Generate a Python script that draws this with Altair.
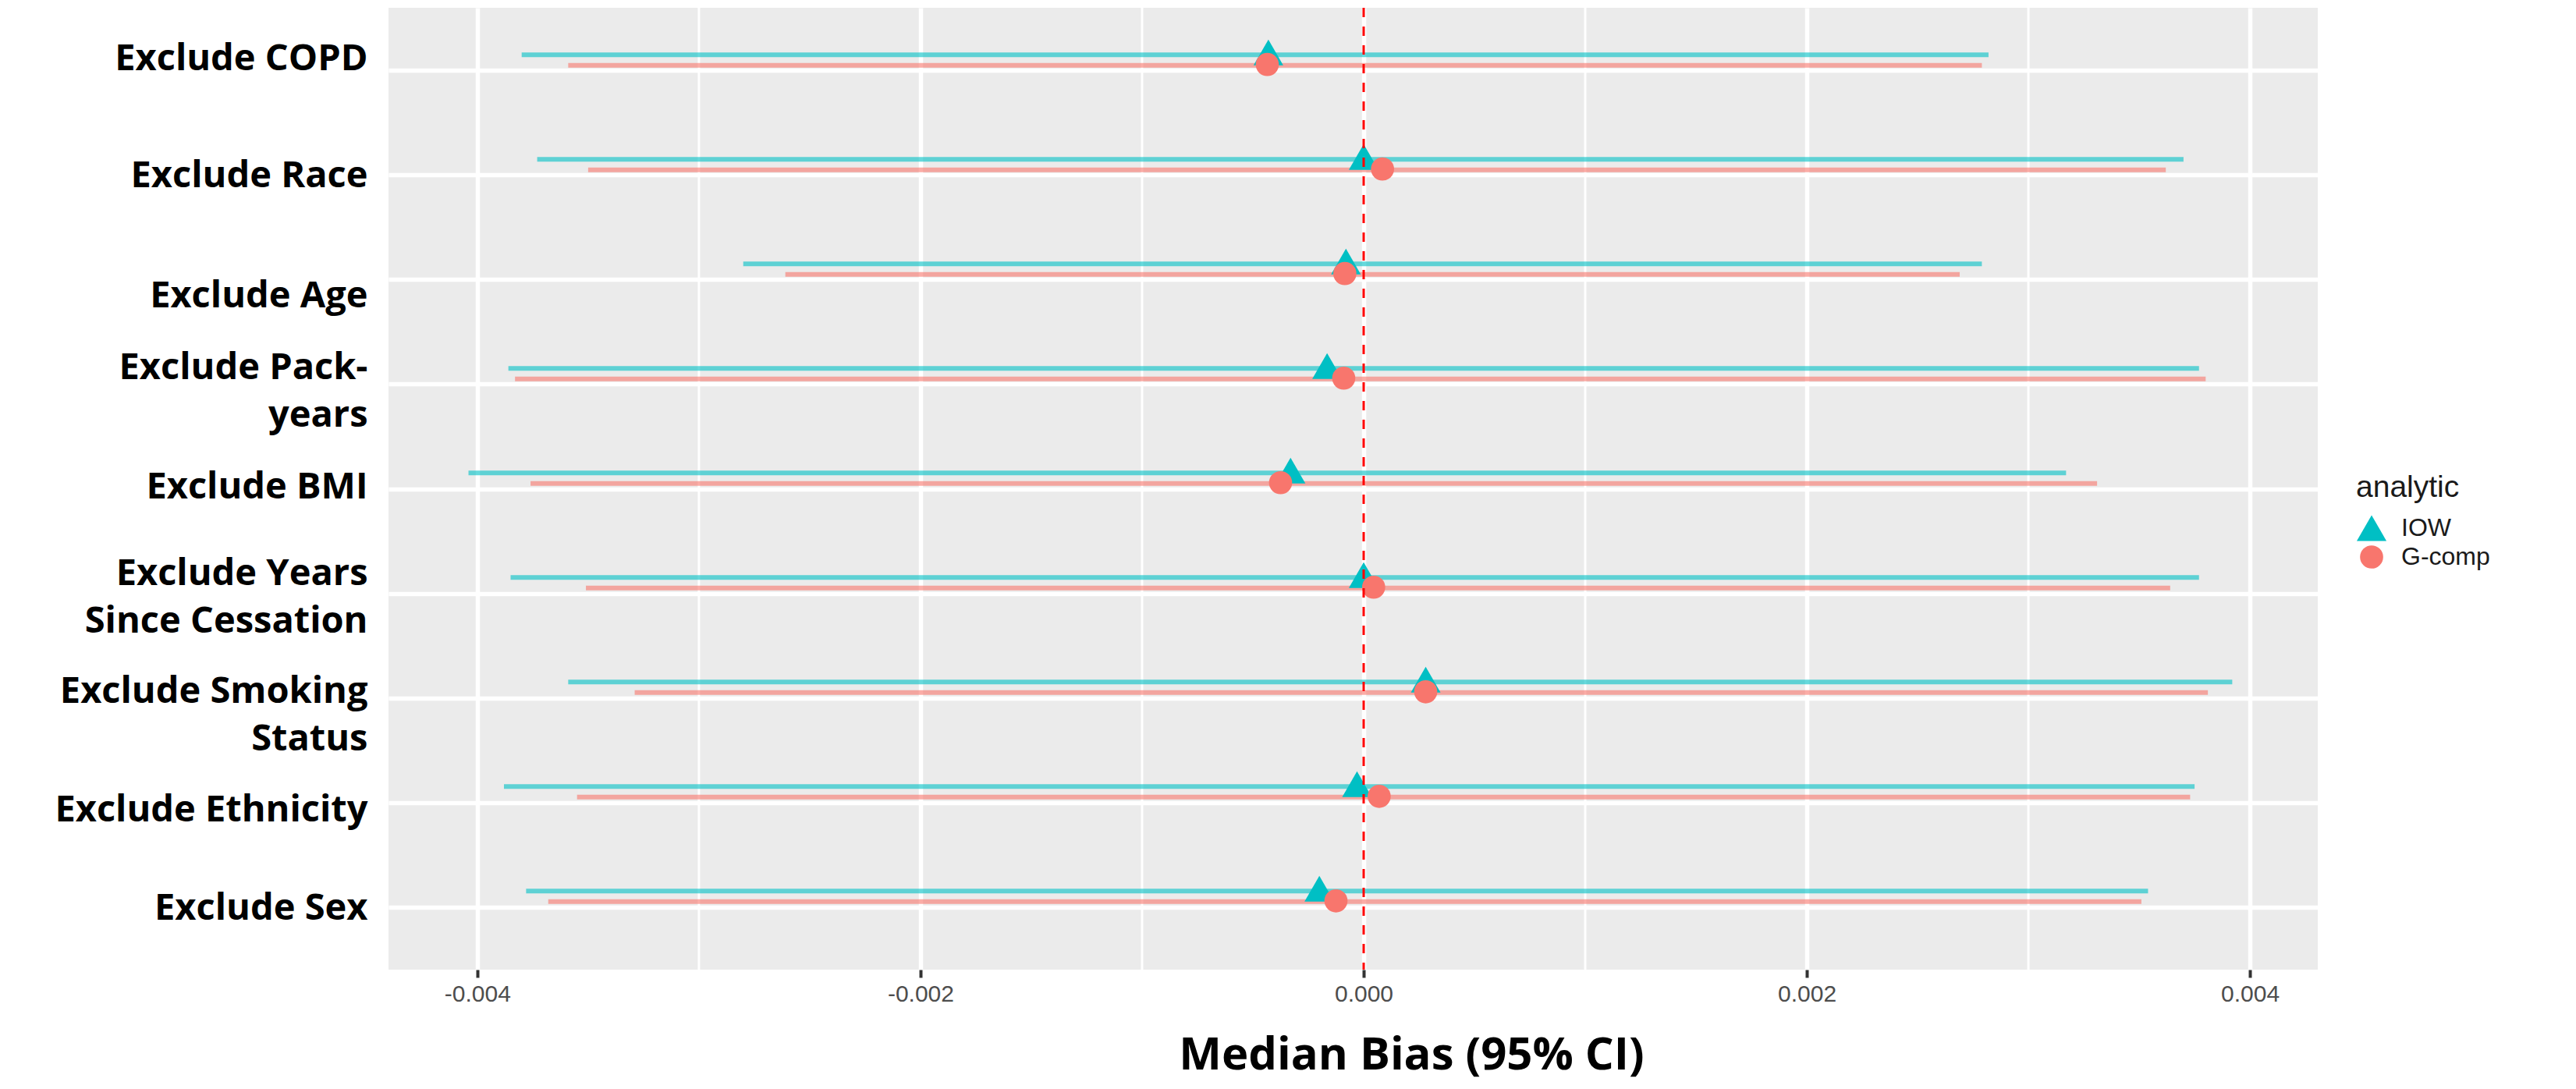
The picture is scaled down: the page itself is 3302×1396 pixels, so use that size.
import json
import altair as alt
import pandas as pd

# ---------------- data ----------------
categories = [
    "Exclude COPD",
    "Exclude Race",
    "Exclude Age",
    "Exclude Pack-years",
    "Exclude BMI",
    "Exclude Years Since Cessation",
    "Exclude Smoking Status",
    "Exclude Ethnicity",
    "Exclude Sex",
]
wrapped_labels = {
    "Exclude Pack-years": ["Exclude Pack-", "years"],
    "Exclude Years Since Cessation": ["Exclude Years", "Since Cessation"],
    "Exclude Smoking Status": ["Exclude Smoking", "Status"],
}
analytics = ["IOW", "G-comp"]

iow_est = [-0.00043, 0.0, -0.00008, -0.000165, -0.00033, 0.0, 0.00028, -0.00003, -0.00020]
iow_lo = [-0.00380, -0.00373, -0.00280, -0.00386, -0.00404, -0.00385, -0.00359, -0.00388, -0.00378]
iow_hi = [0.00282, 0.00370, 0.00279, 0.00377, 0.00317, 0.00377, 0.00392, 0.00375, 0.00354]

gcomp_est = [-0.000435, 0.000085, -0.000085, -0.00009, -0.000375, 0.000045, 0.00028, 0.00007, -0.000125]
gcomp_lo = [-0.00359, -0.00350, -0.00261, -0.00383, -0.00376, -0.00351, -0.00329, -0.00355, -0.00368]
gcomp_hi = [0.00279, 0.00362, 0.00269, 0.00380, 0.00331, 0.00364, 0.00381, 0.00373, 0.00351]

x_ticks = [-0.004, -0.002, 0.0, 0.002, 0.004]
x_minor = [-0.003, -0.001, 0.001, 0.003]
ref_line = [0.0]

# vertical nudges (px) of the overlaid labels in the reference (first line of text)
label_nudge = {
    "Exclude COPD": -15, "Exclude Race": 1, "Exclude Age": 21,
    "Exclude Pack-years": -21, "Exclude BMI": -2,
    "Exclude Years Since Cessation": -25, "Exclude Smoking Status": -8,
    "Exclude Ethnicity": 10, "Exclude Sex": 2,
}

rows = []
for i, c in enumerate(categories):
    rows.append(dict(category=c, analytic="IOW", est=iow_est[i], lo=iow_lo[i], hi=iow_hi[i]))
    rows.append(dict(category=c, analytic="G-comp", est=gcomp_est[i], lo=gcomp_lo[i], hi=gcomp_hi[i]))
df = pd.DataFrame(rows)
minor_df = pd.DataFrame({"minor": x_minor})
ref_df = pd.DataFrame({"ref": ref_line})

# ---------------- styles ----------------
colors = ["#00BFC4", "#F8766D"]
PW, PH = 2473, 1233

label_expr = "datum.value"
for k, v in wrapped_labels.items():
    label_expr = f"datum.value === {json.dumps(k)} ? {json.dumps(v)} : (" + label_expr + ")"

offset_conditions = [
    {"test": f"datum.value === {json.dumps(k)}", "value": v} for k, v in label_nudge.items()
]

x_scale = alt.Scale(domain=[-0.004401, 0.004306], nice=False, zero=False)
x_axis = alt.Axis(
    values=x_ticks,
    labelExpr="replace(format(datum.value, '.3f'), '\u2212', '-')",
    labelFont="Liberation Sans", labelFontSize=30, labelColor="#4D4D4D",
    labelPadding=6, tickColor="#333333", tickWidth=4, tickSize=10,
    domain=False, grid=True, gridColor="white", gridWidth=5.5,
    title="Median Bias (95% CI)", titleFont="Open Sans", titleFontWeight="bold",
    titleFontSize=58, titleColor="black", titleX=1311, titleY=110,
    titleAlign="center", titleBaseline="middle",
)
y_axis = alt.Axis(
    title=None, labelExpr=label_expr, labelFont="Open Sans", labelFontWeight="bold",
    labelFontSize=47, labelColor="black", labelPadding=27, labelLineHeight=61,
    labelLimit=1000, labelOffset={"condition": offset_conditions, "value": 0},
    ticks=False, domain=False, grid=True, gridColor="white", gridWidth=5.5,
)
y_enc = alt.Y("category:N", scale=alt.Scale(type="point", padding=0.6, domain=categories), axis=y_axis)

legend = alt.Legend(
    title="analytic", orient="none", legendX=2522, legendY=596,
    titleFont="Liberation Sans", titleFontSize=39, titleFontWeight="normal", titleColor="#1a1a1a",
    labelFont="Liberation Sans", labelFontSize=32, labelColor="#1a1a1a",
    symbolSize=1400, rowPadding=4, labelOffset=18, titlePadding=12, padding=0,
)

minor_grid = alt.Chart(minor_df).mark_rule(color="white", strokeWidth=3).encode(
    x=alt.X("minor:Q", scale=x_scale, axis=x_axis)
)

ranges = alt.Chart(df).mark_rule(strokeWidth=6, opacity=0.6).encode(
    x=alt.X("lo:Q", scale=x_scale, axis=x_axis),
    x2="hi:Q",
    y=y_enc,
    yOffset=alt.YOffset("analytic:N", scale=alt.Scale(domain=analytics, range=[-27, 0])),
    color=alt.Color("analytic:N", scale=alt.Scale(domain=analytics, range=colors), legend=None),
)

points = alt.Chart(df).mark_point(filled=True, opacity=1).encode(
    x=alt.X("est:Q", scale=x_scale, axis=x_axis),
    y=y_enc,
    yOffset=alt.YOffset("analytic:N", scale=alt.Scale(domain=analytics, range=[-31, 0])),
    color=alt.Color("analytic:N", scale=alt.Scale(domain=analytics, range=colors), legend=legend),
    shape=alt.Shape("analytic:N", scale=alt.Scale(domain=analytics, range=["triangle-up", "circle"]), legend=legend),
    size=alt.Size("analytic:N", scale=alt.Scale(domain=analytics, range=[1450, 880]), legend=None),
)

zero_line = alt.Chart(ref_df).mark_rule(color="#FF0000", strokeWidth=3, strokeDash=[12, 12]).encode(
    x=alt.X("ref:Q", scale=x_scale, axis=x_axis)
)

chart = (
    alt.layer(minor_grid, ranges, points, zero_line)
    .resolve_scale(yOffset="independent", color="independent", shape="independent", size="independent")
    .resolve_legend(color="independent", shape="independent", size="independent")
    .properties(
        width=PW, height=PH,
        background="white",
        autosize=alt.AutoSizeParams(type="none"),
        padding={"left": 490, "top": 2, "right": 323, "bottom": 145},
    )
    .configure_view(fill="#EBEBEB", strokeWidth=0)
)

chart.save("out.html", embed_options={"renderer": "svg", "actions": False})
